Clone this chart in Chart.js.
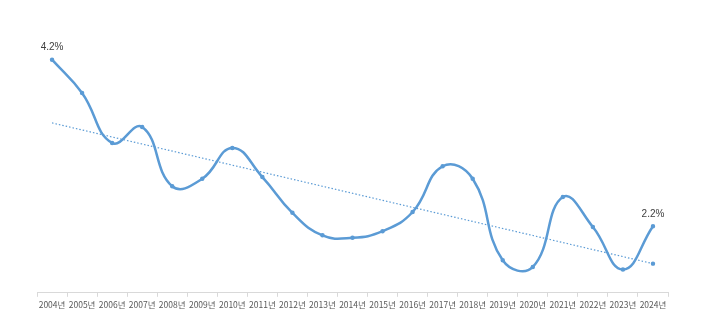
<!DOCTYPE html>
<html lang="ko">
<head>
    <meta charset="UTF-8">
    <title>연도별 추이</title>
    <script src="https://cdn.jsdelivr.net/npm/chart.js"></script>
    <style>
        html, body { margin: 0; padding: 0; background: #fff; }
        #chart-container { width: 710px; height: 322px; }
    </style>
</head>
<body>
    <div id="chart-container">
        <canvas id="rateChart"></canvas>
    </div>

    <script>
        // values
        const years = ['2004년', '2005년', '2006년', '2007년', '2008년', '2009년', '2010년',
                       '2011년', '2012년', '2013년', '2014년', '2015년', '2016년', '2017년',
                       '2018년', '2019년', '2020년', '2021년', '2022년', '2023년', '2024년'];
        const rates = [4.2, 3.8, 3.2, 3.39, 2.68, 2.77, 3.14,
                       2.79, 2.36, 2.09, 2.06, 2.14, 2.37, 2.92,
                       2.77, 1.79, 1.71, 2.55, 2.19, 1.68, 2.2];
        // linear trend line: only its two ends, gaps spanned
        const trendStart = 3.44;
        const trendEnd = 1.75;
        const trend = years.map((y, i) => i === 0 ? trendStart : (i === years.length - 1 ? trendEnd : null));
        // which points carry a value label
        const labelled = [0, years.length - 1];

        const blue = '#5b9bd5';

        const endLabels = {
            id: 'endLabels',
            afterDatasetsDraw(chart) {
                const ctx = chart.ctx;
                const meta = chart.getDatasetMeta(0);
                ctx.save();
                ctx.font = '10px "Liberation Sans", Arial, sans-serif';
                ctx.fillStyle = '#404040';
                ctx.textAlign = 'center';
                ctx.textBaseline = 'bottom';
                labelled.forEach(i => {
                    const pt = meta.data[i];
                    ctx.fillText(rates[i].toFixed(1) + '%', pt.x, pt.y - 7);
                });
                ctx.restore();
            }
        };

        new Chart(document.getElementById('rateChart'), {
            type: 'line',
            data: {
                labels: years,
                datasets: [{
                    data: rates,
                    borderColor: blue,
                    backgroundColor: blue,
                    borderWidth: 2.5,
                    pointRadius: 1,
                    pointHoverRadius: 1,
                    tension: 0.45,
                    order: 0
                }, {
                    data: trend,
                    spanGaps: true,
                    borderColor: blue,
                    backgroundColor: blue,
                    borderWidth: 1.2,
                    borderDash: [1.5, 2],
                    pointRadius: years.map((y, i) => i === years.length - 1 ? 1.6 : 0),
                    tension: 0,
                    order: 1
                }]
            },
            options: {
                responsive: true,
                maintainAspectRatio: false,
                animation: false,
                layout: { padding: { left: 37, right: 42, top: 18, bottom: 9 } },
                plugins: {
                    legend: { display: false },
                    tooltip: { enabled: false }
                },
                scales: {
                    x: {
                        offset: true,
                        grid: {
                            offset: true,
                            drawOnChartArea: false,
                            drawTicks: true,
                            tickLength: 4,
                            color: '#d9d9d9'
                        },
                        border: { display: true, color: '#d9d9d9' },
                        ticks: {
                            autoSkip: false,
                            maxRotation: 0,
                            minRotation: 0,
                            padding: 3,
                            color: '#595959',
                            font: { family: '"Noto Sans CJK KR", sans-serif', size: 8.5 }
                        }
                    },
                    y: {
                        display: false,
                        min: 1.4,
                        max: 4.7
                    }
                }
            },
            plugins: [endLabels]
        });
    </script>
</body>
</html>
